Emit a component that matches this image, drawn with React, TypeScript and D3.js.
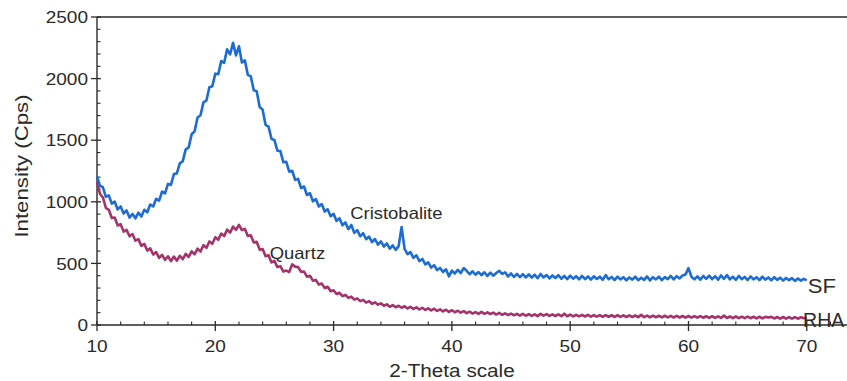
import React from "react";
import * as d3 from "d3";

// 2-theta sampling grid (degrees): 10 to 70, step 0.25
const twoTheta: number[] = d3.range(0, 241).map((i) => 10 + i * 0.25);

// SF intensity (Cps)
const sfValues: number[] = [
  1205, 1130, 1118, 1040, 1052, 985, 1001, 938, 962, 905,
  930, 872, 901, 866, 912, 880, 935, 915, 978, 962,
  1024, 1010, 1082, 1068, 1145, 1138, 1225, 1230, 1312, 1330,
  1425, 1442, 1548, 1572, 1684, 1702, 1808, 1822, 1930, 1938,
  2040, 2035, 2142, 2128, 2238, 2196, 2290, 2188, 2262, 2130,
  2148, 2030, 2018, 1905, 1898, 1770, 1748, 1625, 1610, 1512,
  1500, 1415, 1412, 1322, 1325, 1245, 1252, 1178, 1186, 1112,
  1124, 1055, 1070, 1004, 1022, 962, 982, 921, 940, 883,
  902, 845, 866, 810, 832, 778, 812, 748, 770, 720,
  745, 696, 718, 672, 698, 652, 678, 636, 662, 620,
  646, 610, 640, 795, 618, 575, 592, 545, 566, 518,
  536, 492, 508, 466, 485, 446, 463, 430, 452, 395,
  442, 418, 448, 422, 462, 440, 412, 436, 408, 430,
  404, 428, 398, 425, 400, 422, 440, 415, 428, 394,
  418, 390, 414, 388, 412, 386, 410, 384, 408, 380,
  414, 386, 405, 378, 402, 381, 404, 376, 398, 372,
  400, 376, 396, 370, 398, 372, 394, 368, 395, 374,
  392, 366, 405, 372, 390, 364, 392, 370, 388, 362,
  386, 368, 392, 364, 384, 366, 394, 362, 388, 370,
  392, 364, 388, 372, 398, 370, 396, 378, 402, 410,
  462, 392, 370, 395, 368, 398, 374, 400, 372, 396,
  368, 402, 375, 405, 370, 392, 366, 398, 372, 390,
  365, 394, 370, 388, 364, 392, 368, 386, 362, 388,
  366, 384, 360, 382, 364, 380, 358, 378, 360, 374,
  362,
];

// RHA intensity (Cps)
const rhaValues: number[] = [
  1160, 1065, 1035, 950, 935, 868, 872, 808, 818, 758,
  772, 720, 738, 684, 697, 642, 658, 604, 622, 572,
  592, 545, 570, 528, 558, 518, 556, 522, 562, 534,
  578, 552, 598, 574, 620, 596, 648, 626, 678, 660,
  712, 692, 742, 722, 774, 750, 798, 772, 812, 770,
  780, 722, 728, 670, 676, 612, 616, 558, 566, 508,
  520, 470, 478, 434, 442, 430, 492, 474, 470, 432,
  434, 392, 400, 360, 366, 328, 336, 300, 310, 274,
  282, 252, 262, 234, 244, 220, 230, 206, 216, 194,
  204, 182, 194, 172, 184, 165, 176, 156, 168, 148,
  162, 144, 156, 140, 152, 134, 148, 130, 144, 126,
  140, 122, 135, 118, 132, 114, 127, 110, 124, 106,
  120, 103, 116, 100, 112, 96, 108, 93, 104, 90,
  106, 91, 103, 89, 100, 85, 98, 83, 95, 81,
  93, 79, 91, 77, 90, 75, 88, 74, 87, 72,
  90, 76, 88, 74, 87, 73, 86, 72, 92, 71,
  84, 70, 83, 70, 82, 69, 82, 68, 81, 68,
  80, 67, 80, 67, 79, 66, 79, 66, 78, 65,
  78, 65, 77, 64, 82, 64, 76, 63, 76, 63,
  75, 62, 75, 62, 74, 61, 74, 61, 73, 60,
  73, 60, 72, 59, 72, 59, 71, 58, 71, 58,
  70, 57, 76, 57, 69, 56, 69, 56, 68, 55,
  68, 55, 67, 54, 67, 54, 66, 60, 66, 53,
  65, 52, 65, 52, 64, 51, 64, 51, 63, 55,
  60,
];

const xMajorTicks = [10, 20, 30, 40, 50, 60, 70];
const yMajorTicks = [0, 500, 1000, 1500, 2000, 2500];

const annotations = [
  { text: "Cristobalite", x: 31.4, y: 890 },
  { text: "Quartz", x: 24.6, y: 565 },
];
const seriesLabels = [
  { text: "SF", x: 70.0, y: 325 },
  { text: "RHA", x: 69.6, y: 48 },
];

const W = 847;
const H = 381;
const FONT = "'Liberation Sans', Arial, Helvetica, sans-serif";
const INK = "#2a2a2a";

function SText(props: {
  x: number;
  y: number;
  size: number;
  sx?: number;
  rotate?: number;
  anchor?: string;
  dy?: string;
  children: React.ReactNode;
}) {
  const { x, y, size, sx = 1.12, rotate = 0, anchor = "start", dy = "0", children } = props;
  return (
    <text
      transform={`translate(${x},${y}) rotate(${rotate}) scale(${sx},1)`}
      fontSize={size}
      fontFamily={FONT}
      textAnchor={anchor}
      dy={dy}
      fill={INK}
    >
      {children}
    </text>
  );
}

export default function App() {
  const x = d3.scaleLinear().domain([10, 73.4]).range([97, 847]);
  const y = d3.scaleLinear().domain([0, 2500]).range([325, 17]);

  const line = d3
    .line<number>()
    .x((_, i) => x(twoTheta[i]))
    .y((d) => y(d));

  const xMinor = d3.range(12, 74, 2).filter((v) => v % 10 !== 0);
  const yMinor = d3.range(100, 2500, 100).filter((v) => v % 500 !== 0);

  return (
    <>
      <style>{`body{margin:0}`}</style>
      <svg width={W} height={H} style={{ display: "block", background: "#fff" }}>
        {/* frame */}
        <line x1={x(10)} x2={W} y1={y(2500)} y2={y(2500)} stroke={INK} strokeWidth={1.4} />
        <line x1={x(10)} x2={x(10)} y1={y(2500)} y2={y(0)} stroke={INK} strokeWidth={1.4} />
        <line x1={x(10)} x2={W} y1={y(0)} y2={y(0)} stroke={INK} strokeWidth={1.4} />

        {/* y ticks */}
        {yMajorTicks.map((v) => (
          <g key={"ym" + v}>
            <line x1={x(10) - 6} x2={x(10) + 4} y1={y(v)} y2={y(v)} stroke={INK} strokeWidth={1.3} />
            <SText x={x(10) - 9} y={y(v)} size={17} anchor="end" dy="0.36em">
              {v}
            </SText>
          </g>
        ))}
        {yMinor.map((v) => (
          <line key={"yn" + v} x1={x(10)} x2={x(10) + 3.5} y1={y(v)} y2={y(v)} stroke={INK} strokeWidth={1.1} />
        ))}

        {/* x ticks */}
        {xMajorTicks.map((v) => (
          <g key={"xm" + v}>
            <line x1={x(v)} x2={x(v)} y1={y(0) - 4} y2={y(0) + 6} stroke={INK} strokeWidth={1.3} />
            <SText x={x(v)} y={352} size={17} anchor="middle">
              {v}
            </SText>
          </g>
        ))}
        {xMinor.map((v) => (
          <line key={"xn" + v} x1={x(v)} x2={x(v)} y1={y(0) - 3.5} y2={y(0)} stroke={INK} strokeWidth={1.1} />
        ))}

        {/* axis titles */}
        <SText x={452} y={377} size={18.5} anchor="middle">
          2-Theta scale
        </SText>
        <SText x={28} y={166} size={19} rotate={-90} sx={1.17} anchor="middle">
          Intensity (Cps)
        </SText>

        {/* series */}
        <path d={line(rhaValues) || ""} fill="none" stroke="#a3336a" strokeWidth={2.6} strokeLinejoin="round" />
        <path d={line(sfValues) || ""} fill="none" stroke="#1c6cd2" strokeWidth={2.6} strokeLinejoin="round" />

        {/* annotations */}
        {annotations.map((a) => (
          <SText key={a.text} x={x(a.x)} y={y(a.y) + 4} size={16.5}>
            {a.text}
          </SText>
        ))}
        <SText x={x(seriesLabels[0].x) + 1} y={y(seriesLabels[0].y) + 8} size={21} sx={1.05}>
          {seriesLabels[0].text}
        </SText>
        <SText x={x(seriesLabels[1].x) + 1} y={y(seriesLabels[1].y) + 8} size={19.5} sx={1.0}>
          {seriesLabels[1].text}
        </SText>
      </svg>
    </>
  );
}
